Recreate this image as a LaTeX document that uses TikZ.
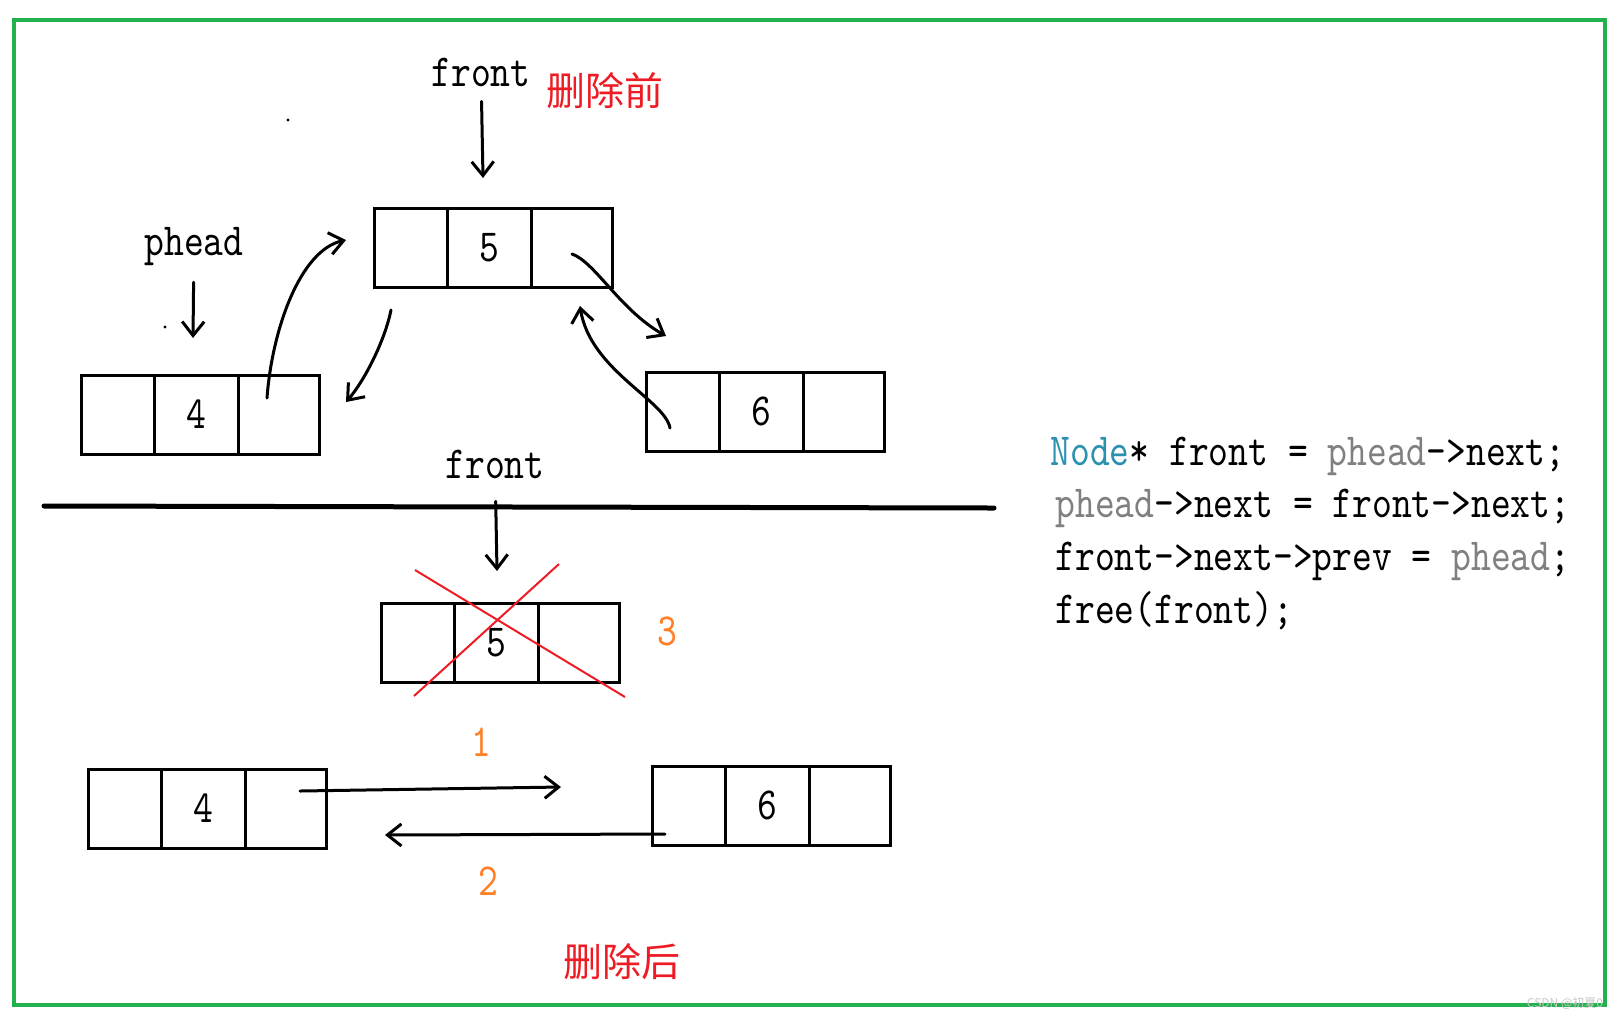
\documentclass[tikz,border=0pt]{standalone}
\usepackage{fontspec}
\newfontfamily\sunfont{lmmono10-regular}[Extension=.otf,FakeStretch=0.82]
\newfontfamily\cjkfont{Noto Sans CJK SC}
\usetikzlibrary{positioning, arrows.meta}

\definecolor{framegreen}{RGB}{34,177,76}
\definecolor{crossred}{RGB}{237,28,36}
\definecolor{steporange}{RGB}{255,127,39}
\definecolor{typeblue}{RGB}{43,145,175}
\definecolor{vargray}{RGB}{128,128,128}

\tikzset{
    nodecell/.style={draw, line width=1.5pt, minimum height=39.5pt, inner sep=0pt, outer sep=0pt,
        font=\sunfont\fontsize{23}{26}\selectfont},
    ptrname/.style={anchor=base, font=\sunfont\fontsize{23}{26}\selectfont},
    redtext/.style={text=crossred, font=\cjkfont\fontsize{19.5}{22}\selectfont},
    steptext/.style={text=steporange, font=\sunfont\fontsize{23}{26}\selectfont},
    codeline/.style={anchor=base west, inner sep=0pt, font=\sunfont\fontsize{23}{26}\selectfont},
    handline/.style={line width=1.5pt, line cap=round, line join=round},
    handarrow/.style={handline, -{Straight Barb[length=7pt,width=11pt,line width=1.5pt]}}
}

% one list node: prev | data | next
\newcommand{\listnode}[4]{%
    \node[nodecell, minimum width=36.5pt, anchor=north west] (#1prev) at (#2,#3) {};
    \node[nodecell, minimum width=42pt, right=0pt of #1prev] (#1data) {#4};
    \node[nodecell, minimum width=40.5pt, right=0pt of #1data] (#1next) {};
}

\begin{document}
\begin{tikzpicture}[x=0.5pt,y=-0.5pt]
    \useasboundingbox (0,0) rectangle (1621,1019);
    % Frame
    \draw[framegreen, line width=2pt] (14,19.5) rectangle (1605,1005);

    % Before deleting
    \listnode{topfour}{81}{375}{4}
    \listnode{topfive}{374}{208}{5}
    \listnode{topsix}{646}{372}{6}

    \node[ptrname] (fronttop) at (481,86) {front};
    \node[redtext] (before) at (605,91) {删除前};
    \node[ptrname] (phead) at (194,255) {phead};
    \coordinate (fronttoptip) at (483,178);
    \coordinate (pheadtip) at (193,338);
    \draw[handarrow, shorten <=4pt] (fronttop) -- (fronttoptip);
    \draw[handarrow, shorten <=5pt] (phead) -- (pheadtip);
    \fill (288,120) circle (0.8pt);
    \fill (165,327) circle (0.8pt);

    % Links around node 5
    \coordinate (fournext) at (267,398);
    \coordinate (fivein) at (346,240);
    \coordinate (fiveprev) at (391,310);
    \coordinate (fourin) at (346,402);
    \coordinate (fivenext) at (572,254);
    \coordinate (sixin) at (666,336);
    \coordinate (sixprev) at (670,428);
    \coordinate (fiveback) at (580,306);
    \draw[handarrow] (fournext) .. controls (272,330) and (300,250) .. (fivein);
    \draw[handarrow] (fiveprev) .. controls (385,340) and (365,380) .. (fourin);
    \draw[handarrow] (fivenext) .. controls (595,262) and (620,310) .. (sixin);
    \draw[handarrow] (sixprev) .. controls (665,400) and (590,370) .. (fiveback);

    % Divider
    \draw[line width=2.5pt, line cap=round] (44,506) -- (994,508);

    % After deleting
    \node[ptrname] (frontbot) at (495,478) {front};
    \listnode{botfive}{381}{603}{5}
    \coordinate (frontbottip) at (497,571);
    \draw[handarrow, shorten <=8pt] (frontbot) -- (frontbottip);
    \draw[crossred, line width=1pt] (415,570) -- (625,697);
    \draw[crossred, line width=1pt] (559,564) -- (414,696);
    \node[steptext] (stepthree) at (667,631) {3};

    \listnode{botfour}{88}{769}{4}
    \listnode{botsix}{652}{766}{6}
    \coordinate (newnext) at (300,791);
    \coordinate (newnexttip) at (561,787);
    \coordinate (newprev) at (665,834);
    \coordinate (newprevtip) at (385,835);
    \draw[handarrow] (newnext) -- (newnexttip);
    \draw[handarrow] (newprev) -- (newprevtip);
    \node[steptext] (stepone) at (481,742) {1};
    \node[steptext] (steptwo) at (488,881) {2};
    \node[redtext] (after) at (622,962) {删除后};

    % Code
    \node[codeline] (codeone) at (1050,465) {\textcolor{typeblue}{Node}* front = \textcolor{vargray}{phead}->next;};
    \node[codeline] (codetwo) at (1055,517) {\textcolor{vargray}{phead}->next = front->next;};
    \node[codeline] (codethree) at (1055,570) {front->next->prev = \textcolor{vargray}{phead};};
    \node[codeline] (codefour) at (1055,623) {free(front);};

    % Watermark
    \node[text=gray!45, font=\cjkfont\fontsize{6}{7}\selectfont] (mark) at (1565,1003) {CSDN @初夏0};
\end{tikzpicture}
\end{document}
